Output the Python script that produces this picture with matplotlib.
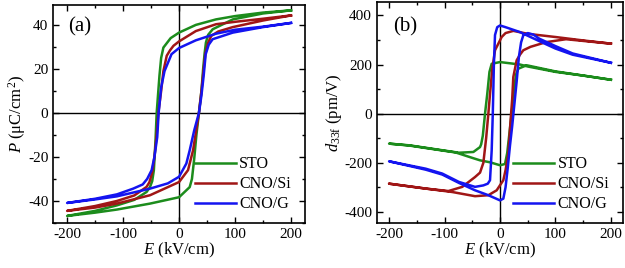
import matplotlib
matplotlib.use("Agg")
import matplotlib.pyplot as plt
from matplotlib.ticker import AutoMinorLocator

plt.rcParams['font.family'] = ['Liberation Serif', 'DejaVu Serif']
plt.rcParams['mathtext.fontset'] = 'custom'
plt.rcParams['mathtext.rm'] = 'Liberation Serif'
plt.rcParams['mathtext.it'] = 'Liberation Serif:italic'
plt.rcParams['axes.unicode_minus'] = False

labels = ['STO', 'CNO/Si', 'CNO/G']
colors = ['#1c8c1c', '#a01616', '#1414f0']

# (a) P-E loops: each list runs +200 -> -200 -> +200 kV/cm
E_sto_a = [200, 150, 100, 66, 30, 0, -15, -28, -32, -35, -40, -42, -45, -48, -52, -58, -80, -111, -150, -200,
           -150, -111, -52, 0, 19, 23, 27, 31, 35.5, 40, 43, 45.6, 48, 52, 60, 96, 150, 200]
P_sto_a = [46.6, 45.6, 44.0, 42.5, 40.0, 36.5, 34.0, 29.7, 25, 17, 0, -12, -26, -31, -33.7, -35.9, -39.5, -42, -44.5, -46.8,
           -45.3, -43.9, -41.2, -38.3, -33.7, -30, -21, -10, 0, 10, 20, 27, 32, 35.5, 38, 42.5, 45.2, 46.6]

E_si_a = [200, 150, 100, 66, 30, 0, -10, -16, -22, -28, -32, -37, -40, -44, -48, -53, -58, -80, -111, -150, -200,
          -150, -111, -52, 0, 16, 25, 30, 35.5, 40, 44, 47, 52, 57.5, 70, 96, 150, 200]
P_si_a = [44.3, 42.8, 41.4, 40.3, 37.2, 32.5, 30.5, 28.5, 26, 19, 10, 0, -10, -20, -27, -31.5, -33.6, -37.5, -40, -42.3, -44.5,
          -43, -41.2, -37.4, -31.4, -26, -17, -9, 0, 10, 20, 27, 32, 35, 37, 39, 42, 44.3]

E_g_a = [200, 150, 100, 66, 30, 0, -13.5, -26, -32, -36.5, -39, -44, -49, -57, -65, -82, -111, -150, -200,
         -150, -111, -52, -20, 0, 13, 19, 27, 35.5, 40, 44, 47.6, 53, 60, 96, 150, 200]
P_g_a = [40.9, 39.2, 37.8, 36.0, 33.0, 29.5, 26.7, 19, 11.6, 0, -11, -20, -26, -30, -32.5, -34.4, -37, -39, -40.9,
         -39.3, -37.9, -34.4, -32, -29, -23, -17, -8, 0, 8, 17, 26.7, 31, 33.5, 36.5, 39, 40.9]

# (b) d33f-E loops
E_sto_b = [200, 150, 100, 50, 36, 0, -15, -19, -23, -27, -31, -34, -36, -48, -74, -104, -163, -200,
           -163, -104, -80, -50, -36, -18, 0, 9, 13, 17, 21, 25, 29, 33, 48, 100, 150, 200]
d_sto_b = [138, 155, 170, 192, 200, 210, 203, 170, 80, 0, -90, -125, -136, -156, -159, -149, -129, -122,
           -130, -150, -158, -180, -190, -198, -210, -205, -160, -80, 0, 90, 160, 183, 197, 172, 155, 138]

E_si_b = [200, 150, 100, 50, 24, 10, 3, -9, -14, -18, -21, -25, -30, -36, -45, -68, -93, -134, -200,
          -134, -86, -45, -21, -6, 6, 10, 15, 19, 22, 24, 30, 36, 42, 55, 83, 119, 150, 200]
d_si_b = [285, 298, 312, 325, 337, 328, 312, 258, 180, 80, 0, -100, -200, -240, -258, -298, -315, -305, -285,
          -305, -319, -336, -332, -312, -271, -230, -163, -30, 60, 149, 217, 240, 258, 272, 291, 303, 296, 285]

E_g_b = [200, 131, 100, 71, 36, 10, 0, -5, -9, -11, -13, -15, -18, -22, -30, -45, -74, -104, -134, -200,
         -134, -104, -74, -45, -21, 0, 6, 10, 14, 18, 22, 26, 30, 34, 38, 42, 50, 60, 71, 100, 131, 200]
d_g_b = [207, 240, 265, 295, 332, 352, 359, 352, 320, 200, 0, -150, -271, -285, -292, -298, -278, -244, -224, -194,
         -228, -248, -282, -312, -332, -353, -346, -300, -220, -130, -50, 40, 130, 230, 290, 319, 328, 322, 305, 275, 245, 207]

x_ticks = [-200, -100, 0, 100, 200]
ya_ticks = [-40, -20, 0, 20, 40]
yb_ticks = [-400, -200, 0, 200, 400]


def style_axes(ax):
    ax.axhline(0, color='black', lw=1.0, zorder=1)
    ax.axvline(0, color='black', lw=1.0, zorder=1)
    ax.xaxis.set_minor_locator(AutoMinorLocator(2))
    ax.yaxis.set_minor_locator(AutoMinorLocator(2))
    ax.tick_params(which='both', direction='in', top=True, right=True, labelsize=11, width=1.0)
    ax.tick_params(which='major', length=4)
    ax.tick_params(which='minor', length=2.5)
    for s in ax.spines.values():
        s.set_linewidth(1.2)
    ax.set_xticks(x_ticks)
    ax.set_xlabel(r'$E$ (kV/cm)', fontsize=12, labelpad=0)
    ax.legend(loc='lower right', bbox_to_anchor=(0.97, 0.02), frameon=False, fontsize=11.5,
              handlelength=2.6, handletextpad=0.2, labelspacing=0.25, borderaxespad=0)


fig = plt.figure(figsize=(6.25, 2.68), dpi=100)

ax1 = fig.add_axes([0.085, 0.168, 0.403, 0.813])
for E, P, c, lab in zip([E_sto_a, E_si_a, E_g_a], [P_sto_a, P_si_a, P_g_a], colors, labels):
    ax1.plot(E, P, color=c, lw=1.8, label=lab, zorder=2)
ax1.set_xlim(-225, 225)
ax1.set_ylim(-50, 49)
ax1.set_yticks(ya_ticks)
ax1.set_ylabel(r'$P$ (μC/cm$^2$)', fontsize=12, labelpad=0)
ax1.text(0.06, 0.9, '(a)', transform=ax1.transAxes, fontsize=15, va='center', ha='left')
style_axes(ax1)

ax2 = fig.add_axes([0.603, 0.168, 0.394, 0.825])
for E, d, c, lab in zip([E_sto_b, E_si_b, E_g_b], [d_sto_b, d_si_b, d_g_b], colors, labels):
    ax2.plot(E, d, color=c, lw=1.8, label=lab, zorder=2)
ax2.set_xlim(-222, 222)
ax2.set_ylim(-445, 455)
ax2.set_yticks(yb_ticks)
ax2.set_ylabel(r'$d_{33\mathrm{f}}$ (pm/V)', fontsize=12, labelpad=0)
ax2.text(0.065, 0.887, '(b)', transform=ax2.transAxes, fontsize=15, va='center', ha='left')
style_axes(ax2)

fig.savefig('out.png', dpi=100)
